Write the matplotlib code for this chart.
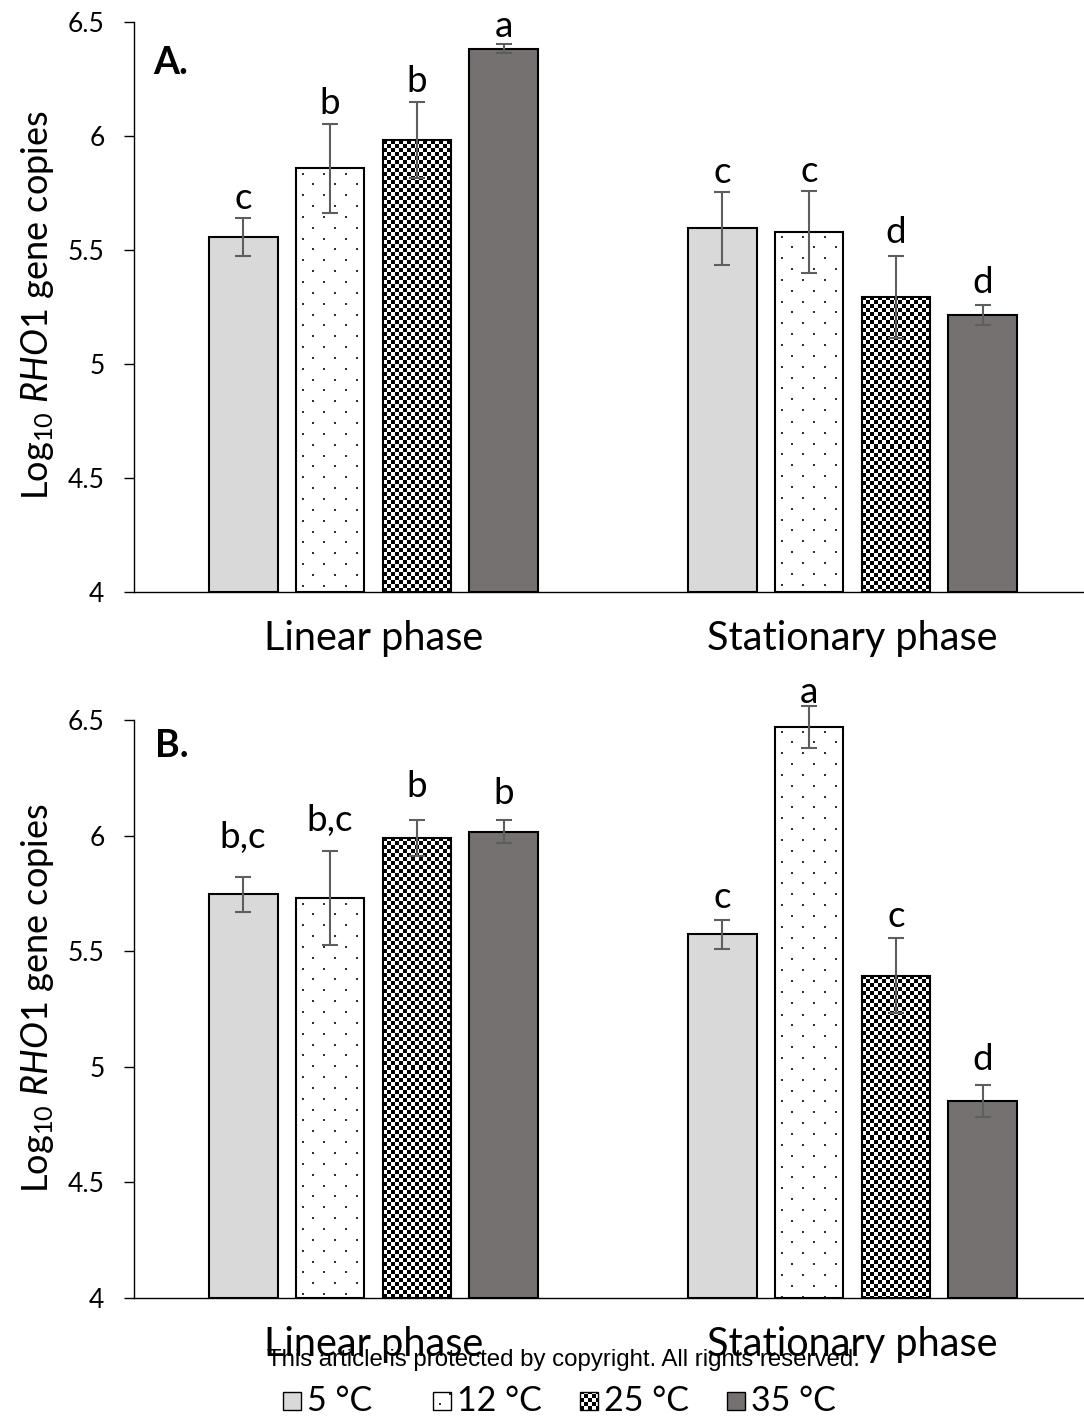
import numpy as np
import matplotlib
matplotlib.use("Agg")
import matplotlib.pyplot as plt
from matplotlib.patches import Rectangle

plt.rcParams["font.family"] = ["Lato", "DejaVu Sans"]
plt.rcParams["mathtext.fontset"] = "custom"
plt.rcParams["mathtext.rm"] = "Lato"
plt.rcParams["mathtext.it"] = "Lato:italic"

# ---------------- data ----------------
phases = ["Linear phase", "Stationary phase"]
temps = ["5 °C", "12 °C", "25 °C", "35 °C"]

# Panel A: mean log10 copies per temperature, [linear, stationary]
a_means = {
    "5 °C": [5.556, 5.595],
    "12 °C": [5.858, 5.580],
    "25 °C": [5.982, 5.295],
    "35 °C": [6.382, 5.215],
}
a_err = {
    "5 °C": [0.083, 0.159],
    "12 °C": [0.196, 0.180],
    "25 °C": [0.165, 0.180],
    "35 °C": [0.020, 0.044],
}
a_letters = {
    "5 °C": ["c", "c"],
    "12 °C": ["b", "c"],
    "25 °C": ["b", "d"],
    "35 °C": ["a", "d"],
}

# Panel B
b_means = {
    "5 °C": [5.746, 5.573],
    "12 °C": [5.729, 6.471],
    "25 °C": [5.991, 5.393],
    "35 °C": [6.016, 4.852],
}
b_err = {
    "5 °C": [0.075, 0.062],
    "12 °C": [0.203, 0.090],
    "25 °C": [0.078, 0.162],
    "35 °C": [0.050, 0.071],
}
b_letters = {
    "5 °C": ["b,c", "c"],
    "12 °C": ["b,c", "a"],
    "25 °C": ["b", "c"],
    "35 °C": ["b", "d"],
}

# ---------------- styling ----------------
W, H = 1084, 1425
DPI = 100
fills = {"5 °C": "#d9d9d9", "12 °C": "white", "25 °C": "white", "35 °C": "#767171"}
patterns = {"5 °C": None, "12 °C": "dots", "25 °C": "checker", "35 °C": None}
err_color = "#5e5e5e"
bar_w = 0.144
bar_step = 0.1816

# space between error-bar top and letter baseline (pixels)
a_gap = {"5 °C": [9, 9], "12 °C": [10, 9], "25 °C": [10, 13], "35 °C": [7, 12]}
b_gap = {"5 °C": [29, 12], "12 °C": [20, 3], "25 °C": [23, 11], "35 °C": [16, 15]}


def make_texture(kind, w, h):
    img = np.ones((h, w, 3))
    if kind == "checker":
        yy, xx = np.mgrid[0:h, 0:w]
        m = ((xx // 4 + yy // 4) % 2) == 0
        img[m] = 0.0
    elif kind == "dots":
        sp = 21.7
        k = 0
        y = 5.0
        while y < h:
            x = 6.0 + (sp / 2 if k % 2 else 0.0)
            while x < w:
                yi, xi = int(y), int(x)
                img[yi:yi + 2, xi:xi + 2] = 0.2
                x += sp
            y += sp / 2
            k += 1
    return img


def apply_pattern(ax, patch, kind):
    bb = patch.get_window_extent()
    w = max(int(round(bb.width)), 1)
    h = max(int(round(bb.height)), 1)
    img = make_texture(kind, w, h)
    x0, y0 = patch.get_x(), patch.get_y()
    x1, y1 = x0 + patch.get_width(), y0 + patch.get_height()
    im = ax.imshow(img, extent=(x0, x1, min(y0, y1), max(y0, y1)),
                   interpolation="nearest", aspect="auto",
                   zorder=patch.get_zorder() + 0.1)
    im.set_clip_path(patch)


fig = plt.figure(figsize=(W / DPI, H / DPI), dpi=DPI)


def px_axes(left, top, right, bottom):
    return fig.add_axes([left / W, 1 - bottom / H, (right - left) / W, (bottom - top) / H])


def draw_panel(ax, means, errs, letters, gaps):
    x = np.arange(len(phases))
    ax.set_xlim(-0.5, 1.5)
    ax.set_ylim(4, 6.5)
    for i, t in enumerate(temps):
        pos = x + (i - 1.5) * bar_step
        bars = ax.bar(pos, np.array(means[t]) - 4, bottom=4, width=bar_w,
                      color=fills[t], edgecolor="none", zorder=2)
        if patterns[t]:
            for p in bars:
                apply_pattern(ax, p, patterns[t])
        ax.bar(pos, np.array(means[t]) - 4, bottom=4, width=bar_w, fill=False,
               edgecolor="black", linewidth=1.5, zorder=3)
        eb = ax.errorbar(pos, means[t], yerr=errs[t], fmt="none", ecolor=err_color,
                         elinewidth=1.5, capsize=5.5, capthick=1.5, zorder=4)
        for art in eb.lines[1] + eb.lines[2]:
            art.set_clip_on(False)
        for j in range(len(phases)):
            top = means[t][j] + errs[t][j]
            ax.annotate(letters[t][j], (pos[j], top), xytext=(0, gaps[t][j] * 0.72),
                        textcoords="offset points", ha="center", va="baseline",
                        fontsize=26.5, zorder=5, annotation_clip=False)
    ax.set_xlim(-0.5, 1.5)
    ax.set_ylim(4, 6.5)
    ax.set_yticks([4, 4.5, 5, 5.5, 6, 6.5])
    ax.set_yticklabels(["4", "4.5", "5", "5.5", "6", "6.5"])
    ax.set_xticks(x)
    ax.set_xticklabels(phases)
    ax.tick_params(axis="y", direction="out", length=7.2, width=1.0, pad=14,
                   labelsize=19)
    ax.tick_params(axis="x", length=0, pad=20, labelsize=28.5)
    for s in ["top", "right"]:
        ax.spines[s].set_visible(False)
    for s in ["left", "bottom"]:
        ax.spines[s].set_linewidth(1.0)
        ax.spines[s].set_color("black")
    ax.set_facecolor("none")


ax_a = px_axes(134, 22, 1092, 592)
ax_b = px_axes(134, 720, 1092, 1298)
# set limits before computing pattern sizes
for ax in (ax_a, ax_b):
    ax.set_xlim(-0.5, 1.5)
    ax.set_ylim(4, 6.5)
draw_panel(ax_a, a_means, a_err, a_letters, a_gap)
draw_panel(ax_b, b_means, b_err, b_letters, b_gap)

ylabel = r"Log$_{10}$ $\it{RHO1}$ gene copies"
fig.text(38 / W, 1 - 305 / H, ylabel, rotation=90, ha="center", va="center", fontsize=26)
fig.text(38 / W, 1 - 998 / H, ylabel, rotation=90, ha="center", va="center", fontsize=26)

# overlay for panel letters, notice and legend (pixel coordinates)
ov = fig.add_axes([0, 0, 1, 1], zorder=10)
ov.set_xlim(0, W)
ov.set_ylim(H, 0)
ov.axis("off")
ov.set_facecolor("none")

ov.text(153, 74, "A.", fontsize=27, fontweight="bold", ha="left", va="baseline")
ov.text(155, 757, "B.", fontsize=27, fontweight="bold", ha="left", va="baseline")

ov.text(563, 1366, "This article is protected by copyright. All rights reserved.",
        family="Liberation Sans", fontsize=17.3, ha="center", va="baseline")

legend_x = [283, 433, 580, 727]
for lx, t in zip(legend_x, temps):
    sq = Rectangle((lx, 1392), 18, 18, facecolor=fills[t], edgecolor="none", zorder=2)
    ov.add_patch(sq)
    if patterns[t]:
        apply_pattern(ov, sq, patterns[t])
    ov.add_patch(Rectangle((lx, 1392), 18, 18, fill=False, edgecolor="black",
                           linewidth=1.0, zorder=3))
    ov.text(lx + 24, 1411, t, fontsize=24.5, ha="left", va="baseline")
ov.set_xlim(0, W)
ov.set_ylim(H, 0)

fig.savefig("out.png", dpi=DPI)
